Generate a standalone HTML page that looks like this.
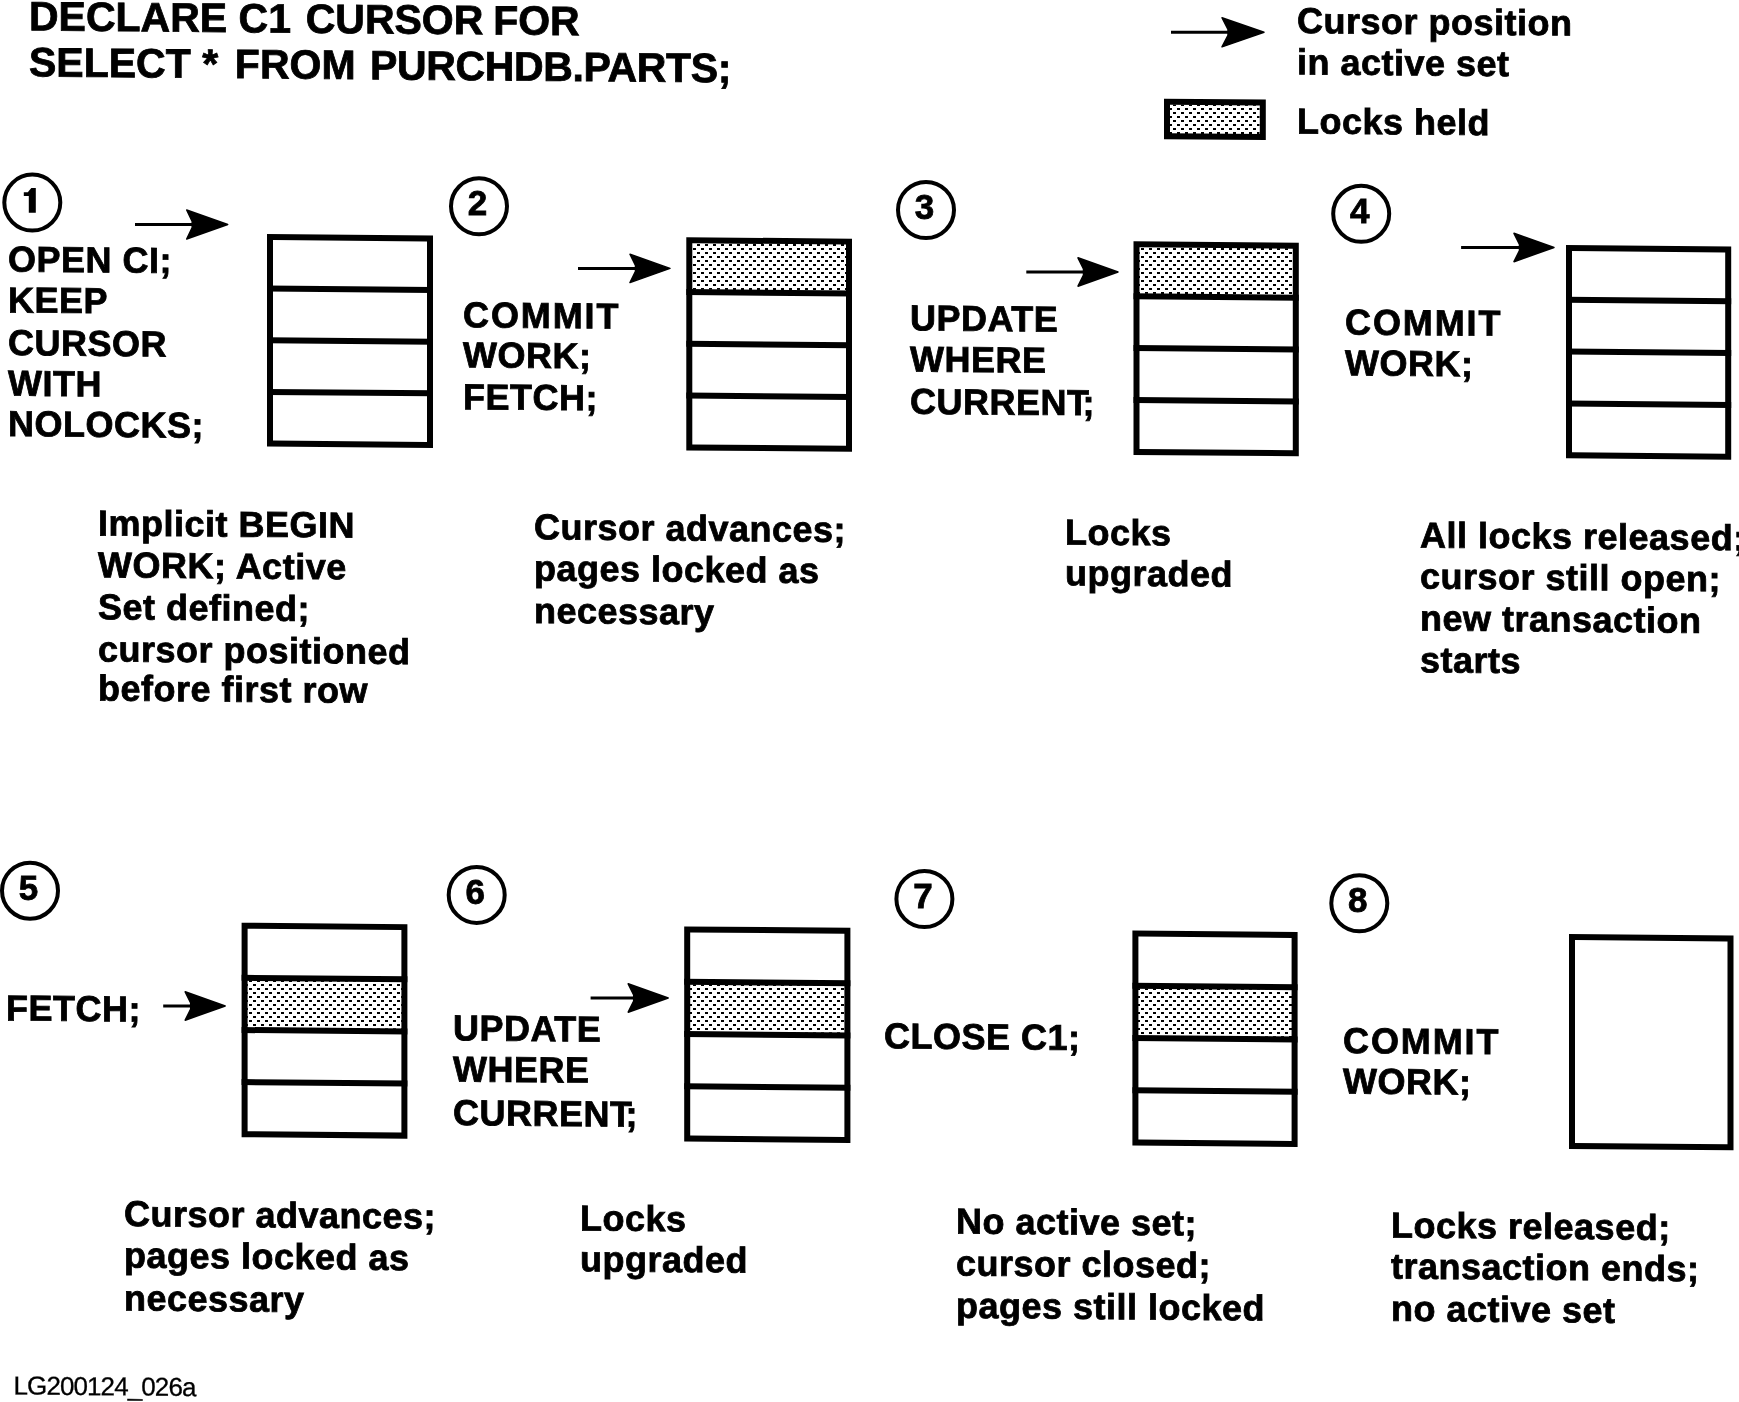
<!DOCTYPE html>
<html><head><meta charset="utf-8"><style>
html,body{margin:0;padding:0;background:#fff;}
body{width:1739px;height:1402px;overflow:hidden;}
svg{display:block;will-change:transform;}
text{font-family:"Liberation Sans",sans-serif;fill:#000;white-space:pre;}
.b{font-weight:bold;font-size:36px;stroke:#000;stroke-width:0.8px;letter-spacing:0.5px;}
.h{font-weight:bold;font-size:41px;stroke:#000;stroke-width:0.8px;}
.d{font-weight:bold;font-size:35px;stroke:#000;stroke-width:0.8px;}
.r{font-weight:normal;font-size:26px;stroke:#000;stroke-width:0.3px;}
</style></head><body>
<svg width="1739" height="1402" viewBox="0 0 1739 1402">
<defs>
<pattern id="dots" width="8" height="8" patternUnits="userSpaceOnUse">
<path d="M1,4h3v2h-3z M5,0h3v2h-3z" fill="#000"/>
</pattern>
</defs>
<rect width="1739" height="1402" fill="#fff"/>
<g transform="matrix(1,0.0088,0,1,0,-0.255)"><text x="29.0" y="30.3" class="h">DECLARE C1<tspan dx="3.3"> CURSOR</tspan><tspan dx="-1.6"> FOR</tspan></text></g>
<g transform="matrix(1,0.0088,0,1,0,-0.255)"><text x="29.0" y="76.2" class="h">SELECT *<tspan dx="5.4"> FROM</tspan><tspan dx="3.3" letter-spacing="-0.35"> PURCHDB.PARTS;</tspan></text></g>
<line x1="1171.0" y1="32.3" x2="1230.0" y2="32.3" stroke="#000" stroke-width="3"/><path d="M1264.0,32.3 L1222.0,17.7 L1228.0,29.3 L1228.0,35.3 L1222.0,46.9 Z" fill="#000" stroke="#000" stroke-width="1.5" stroke-linejoin="round"/>
<path d="M1169.5,104.5 L1259.5,105.29 L1259.5,134.79 L1169.5,134 Z" fill="url(#dots)"/>
<g transform="matrix(1,0.0088,0,1,0,-10.243)"><rect x="1167" y="101.7" width="95.8" height="34.5" fill="none" stroke="#000" stroke-width="6"/></g>
<g transform="matrix(1,0.0088,0,1,0,-11.414)"><text x="1297.0" y="33.1" class="b">Cursor position</text></g>
<g transform="matrix(1,0.0088,0,1,0,-11.414)"><text x="1297.0" y="74.3" class="b">in active set</text></g>
<g transform="matrix(1,0.0088,0,1,0,-11.414)"><text x="1297.0" y="133.4" class="b">Locks held</text></g>
<circle cx="32.3" cy="202.6" r="28" fill="none" stroke="#000" stroke-width="4"/><path d="M28.8,212.7 L28.8,196.0 L23.8,196.0 L23.8,192.3 L27.8,192.3 L31.3,188.0 L35.8,188.0 L35.8,212.7 Z" fill="#000"/>
<line x1="135.0" y1="224.5" x2="194.2" y2="224.5" stroke="#000" stroke-width="3"/><path d="M227.7,224.5 L186.7,210.0 L192.2,221.5 L192.2,227.5 L186.7,239.0 Z" fill="#000" stroke="#000" stroke-width="1.5" stroke-linejoin="round"/>
<g transform="matrix(1,0.0088,0,1,0,-0.070)"><text x="8.0" y="271.5" class="b">OPEN CI;</text></g>
<g transform="matrix(1,0.0088,0,1,0,-0.070)"><text x="8.0" y="312.4" class="b">KEEP</text></g>
<g transform="matrix(1,0.0088,0,1,0,-0.070)"><text x="8.0" y="355.0" class="b">CURSOR</text></g>
<g transform="matrix(1,0.0088,0,1,0,-0.070)"><text x="8.0" y="395.6" class="b">WITH</text></g>
<g transform="matrix(1,0.0088,0,1,0,-0.070)"><text x="8.0" y="436.0" class="b">NOLOCKS;</text></g>
<g transform="matrix(1,0.0088,0,1,0,-2.350)"><rect x="270.0" y="237.0" width="160.0" height="206.5" fill="none" stroke="#000" stroke-width="6"/><line x1="267.0" y1="288.6" x2="433.0" y2="288.6" stroke="#000" stroke-width="6"/><line x1="267.0" y1="340.2" x2="433.0" y2="340.2" stroke="#000" stroke-width="6"/><line x1="267.0" y1="391.9" x2="433.0" y2="391.9" stroke="#000" stroke-width="6"/></g>
<g transform="matrix(1,0.0088,0,1,0,-0.862)"><text x="98.0" y="535.4" class="b">Implicit BEGIN</text></g>
<g transform="matrix(1,0.0088,0,1,0,-0.862)"><text x="98.0" y="577.3" class="b">WORK; Active</text></g>
<g transform="matrix(1,0.0088,0,1,0,-0.862)"><text x="98.0" y="619.2" class="b">Set defined;</text></g>
<g transform="matrix(1,0.0088,0,1,0,-0.862)"><text x="98.0" y="661.4" class="b">cursor positioned</text></g>
<g transform="matrix(1,0.0088,0,1,0,-0.862)"><text x="98.0" y="700.5" class="b">before first row</text></g>
<circle cx="479.0" cy="206.3" r="28" fill="none" stroke="#000" stroke-width="4"/><text x="477.5" y="215.3" text-anchor="middle" class="d">2</text>
<line x1="578.0" y1="268.4" x2="637.5" y2="268.4" stroke="#000" stroke-width="3"/><path d="M670.0,268.4 L630.0,254.2 L635.5,265.4 L635.5,271.4 L630.0,282.6 Z" fill="#000" stroke="#000" stroke-width="1.5" stroke-linejoin="round"/>
<g transform="matrix(1,0.0088,0,1,0,-4.074)"><text x="463.0" y="327.3" class="b"><tspan letter-spacing="1.9">COMMIT</tspan></text></g>
<g transform="matrix(1,0.0088,0,1,0,-4.074)"><text x="463.0" y="367.3" class="b">WORK;</text></g>
<g transform="matrix(1,0.0088,0,1,0,-4.074)"><text x="463.0" y="409.2" class="b">FETCH;</text></g>
<path d="M691.80,242.75 L846.50,244.11 L846.50,290.91 L691.80,289.55 Z" fill="url(#dots)"/><g transform="matrix(1,0.0088,0,1,0,-6.039)"><rect x="689.3" y="240.2" width="159.7" height="207.2" fill="none" stroke="#000" stroke-width="6"/><line x1="686.3" y1="292.0" x2="852.0" y2="292.0" stroke="#000" stroke-width="6"/><line x1="686.3" y1="343.8" x2="852.0" y2="343.8" stroke="#000" stroke-width="6"/><line x1="686.3" y1="395.6" x2="852.0" y2="395.6" stroke="#000" stroke-width="6"/></g>
<g transform="matrix(1,0.0088,0,1,0,-4.699)"><text x="534.0" y="539.3" class="b">Cursor advances;</text></g>
<g transform="matrix(1,0.0088,0,1,0,-4.699)"><text x="534.0" y="580.5" class="b">pages locked as</text></g>
<g transform="matrix(1,0.0088,0,1,0,-4.699)"><text x="534.0" y="623.0" class="b">necessary</text></g>
<circle cx="926.0" cy="210.0" r="28" fill="none" stroke="#000" stroke-width="4"/><text x="924.5" y="219.0" text-anchor="middle" class="d">3</text>
<line x1="1026.3" y1="272.0" x2="1085.5" y2="272.0" stroke="#000" stroke-width="3"/><path d="M1118.0,272.0 L1078.0,257.8 L1083.5,269.0 L1083.5,275.0 L1078.0,286.2 Z" fill="#000" stroke="#000" stroke-width="1.5" stroke-linejoin="round"/>
<g transform="matrix(1,0.0088,0,1,0,-8.008)"><text x="910.0" y="330.3" class="b">UPDATE</text></g>
<g transform="matrix(1,0.0088,0,1,0,-8.008)"><text x="910.0" y="371.4" class="b">WHERE</text></g>
<g transform="matrix(1,0.0088,0,1,0,-8.008)"><text x="910.0" y="413.7" class="b">CURRENT<tspan dx="-7">;</tspan></text></g>
<path d="M1139.00,246.85 L1293.30,248.21 L1293.30,295.11 L1139.00,293.75 Z" fill="url(#dots)"/><g transform="matrix(1,0.0088,0,1,0,-9.975)"><rect x="1136.5" y="244.3" width="159.3" height="207.6" fill="none" stroke="#000" stroke-width="6"/><line x1="1133.5" y1="296.2" x2="1298.8" y2="296.2" stroke="#000" stroke-width="6"/><line x1="1133.5" y1="348.1" x2="1298.8" y2="348.1" stroke="#000" stroke-width="6"/><line x1="1133.5" y1="400.0" x2="1298.8" y2="400.0" stroke="#000" stroke-width="6"/></g>
<g transform="matrix(1,0.0088,0,1,0,-9.372)"><text x="1065.0" y="544.5" class="b">Locks</text></g>
<g transform="matrix(1,0.0088,0,1,0,-9.372)"><text x="1065.0" y="585.2" class="b">upgraded</text></g>
<circle cx="1361.2" cy="213.8" r="28" fill="none" stroke="#000" stroke-width="4"/><text x="1359.7" y="222.8" text-anchor="middle" class="d">4</text>
<line x1="1461.1" y1="247.5" x2="1521.5" y2="247.5" stroke="#000" stroke-width="3"/><path d="M1554.0,247.5 L1514.0,233.3 L1519.5,244.5 L1519.5,250.5 L1514.0,261.7 Z" fill="#000" stroke="#000" stroke-width="1.5" stroke-linejoin="round"/>
<g transform="matrix(1,0.0088,0,1,0,-11.836)"><text x="1345.0" y="334.4" class="b"><tspan letter-spacing="1.9">COMMIT</tspan></text></g>
<g transform="matrix(1,0.0088,0,1,0,-11.836)"><text x="1345.0" y="375.3" class="b">WORK;</text></g>
<g transform="matrix(1,0.0088,0,1,0,-13.781)"><rect x="1569.0" y="248.0" width="159.2" height="207.3" fill="none" stroke="#000" stroke-width="6"/><line x1="1566.0" y1="299.8" x2="1731.2" y2="299.8" stroke="#000" stroke-width="6"/><line x1="1566.0" y1="351.6" x2="1731.2" y2="351.6" stroke="#000" stroke-width="6"/><line x1="1566.0" y1="403.5" x2="1731.2" y2="403.5" stroke="#000" stroke-width="6"/></g>
<g transform="matrix(1,0.0088,0,1,0,-12.496)"><text x="1420.0" y="547.4" class="b">All locks released;</text></g>
<g transform="matrix(1,0.0088,0,1,0,-12.496)"><text x="1420.0" y="588.6" class="b">cursor still open;</text></g>
<g transform="matrix(1,0.0088,0,1,0,-12.496)"><text x="1420.0" y="630.4" class="b">new transaction</text></g>
<g transform="matrix(1,0.0088,0,1,0,-12.496)"><text x="1420.0" y="672.2" class="b">starts</text></g>
<circle cx="30.0" cy="890.7" r="28" fill="none" stroke="#000" stroke-width="4"/><text x="28.5" y="899.7" text-anchor="middle" class="d">5</text>
<line x1="163.2" y1="1006.0" x2="192.7" y2="1006.0" stroke="#000" stroke-width="3"/><path d="M225.2,1006.0 L185.2,991.8 L190.7,1003.0 L190.7,1009.0 L185.2,1020.2 Z" fill="#000" stroke="#000" stroke-width="1.5" stroke-linejoin="round"/>
<g transform="matrix(1,0.0088,0,1,0,-0.053)"><text x="6.0" y="1020.4" class="b">FETCH;</text></g>
<path d="M247.10,980.37 L401.90,981.74 L401.90,1028.86 L247.10,1027.50 Z" fill="url(#dots)"/><g transform="matrix(1,0.0088,0,1,0,-2.126)"><rect x="244.6" y="925.7" width="159.8" height="208.5" fill="none" stroke="#000" stroke-width="6"/><line x1="241.6" y1="977.8" x2="407.4" y2="977.8" stroke="#000" stroke-width="6"/><line x1="241.6" y1="1030.0" x2="407.4" y2="1030.0" stroke="#000" stroke-width="6"/><line x1="241.6" y1="1082.1" x2="407.4" y2="1082.1" stroke="#000" stroke-width="6"/></g>
<g transform="matrix(1,0.0088,0,1,0,-1.091)"><text x="124.0" y="1226.1" class="b">Cursor advances;</text></g>
<g transform="matrix(1,0.0088,0,1,0,-1.091)"><text x="124.0" y="1267.6" class="b">pages locked as</text></g>
<g transform="matrix(1,0.0088,0,1,0,-1.091)"><text x="124.0" y="1310.4" class="b">necessary</text></g>
<circle cx="476.7" cy="894.9" r="28" fill="none" stroke="#000" stroke-width="4"/><text x="475.2" y="903.9" text-anchor="middle" class="d">6</text>
<line x1="590.6" y1="998.0" x2="635.7" y2="998.0" stroke="#000" stroke-width="3"/><path d="M668.2,998.0 L628.2,983.8 L633.7,995.0 L633.7,1001.0 L628.2,1012.2 Z" fill="#000" stroke="#000" stroke-width="1.5" stroke-linejoin="round"/>
<g transform="matrix(1,0.0088,0,1,0,-3.986)"><text x="453.0" y="1040.3" class="b">UPDATE</text></g>
<g transform="matrix(1,0.0088,0,1,0,-3.986)"><text x="453.0" y="1081.4" class="b">WHERE</text></g>
<g transform="matrix(1,0.0088,0,1,0,-3.986)"><text x="453.0" y="1125.0" class="b">CURRENT<tspan dx="-7">;</tspan></text></g>
<path d="M689.70,984.22 L844.90,985.59 L844.90,1032.86 L689.70,1031.50 Z" fill="url(#dots)"/><g transform="matrix(1,0.0088,0,1,0,-6.021)"><rect x="687.2" y="929.4" width="160.2" height="209.1" fill="none" stroke="#000" stroke-width="6"/><line x1="684.2" y1="981.7" x2="850.4" y2="981.7" stroke="#000" stroke-width="6"/><line x1="684.2" y1="1034.0" x2="850.4" y2="1034.0" stroke="#000" stroke-width="6"/><line x1="684.2" y1="1086.2" x2="850.4" y2="1086.2" stroke="#000" stroke-width="6"/></g>
<g transform="matrix(1,0.0088,0,1,0,-5.104)"><text x="580.0" y="1230.4" class="b">Locks</text></g>
<g transform="matrix(1,0.0088,0,1,0,-5.104)"><text x="580.0" y="1271.2" class="b">upgraded</text></g>
<circle cx="924.4" cy="899.0" r="28" fill="none" stroke="#000" stroke-width="4"/><text x="922.9" y="908.0" text-anchor="middle" class="d">7</text>
<g transform="matrix(1,0.0088,0,1,0,-7.779)"><text x="884.0" y="1048.3" class="b">CLOSE C1;</text></g>
<path d="M1137.90,988.30 L1292.10,989.66 L1292.10,1036.91 L1137.90,1035.55 Z" fill="url(#dots)"/><g transform="matrix(1,0.0088,0,1,0,-9.965)"><rect x="1135.4" y="933.5" width="159.2" height="209.0" fill="none" stroke="#000" stroke-width="6"/><line x1="1132.4" y1="985.8" x2="1297.6" y2="985.8" stroke="#000" stroke-width="6"/><line x1="1132.4" y1="1038.0" x2="1297.6" y2="1038.0" stroke="#000" stroke-width="6"/><line x1="1132.4" y1="1090.2" x2="1297.6" y2="1090.2" stroke="#000" stroke-width="6"/></g>
<g transform="matrix(1,0.0088,0,1,0,-8.413)"><text x="956.0" y="1233.4" class="b">No active set;</text></g>
<g transform="matrix(1,0.0088,0,1,0,-8.413)"><text x="956.0" y="1275.5" class="b">cursor closed;</text></g>
<g transform="matrix(1,0.0088,0,1,0,-8.413)"><text x="956.0" y="1317.8" class="b">pages still locked</text></g>
<circle cx="1359.3" cy="903.3" r="28" fill="none" stroke="#000" stroke-width="4"/><text x="1357.8" y="912.3" text-anchor="middle" class="d">8</text>
<g transform="matrix(1,0.0088,0,1,0,-11.818)"><text x="1343.0" y="1052.9" class="b"><tspan letter-spacing="1.9">COMMIT</tspan></text></g>
<g transform="matrix(1,0.0088,0,1,0,-11.818)"><text x="1343.0" y="1093.4" class="b">WORK;</text></g>
<g transform="matrix(1,0.0088,0,1,0,-13.807)"><rect x="1572.0" y="937.0" width="158.5" height="208.9" fill="none" stroke="#000" stroke-width="6"/></g>
<g transform="matrix(1,0.0088,0,1,0,-12.241)"><text x="1391.0" y="1237.5" class="b">Locks released;</text></g>
<g transform="matrix(1,0.0088,0,1,0,-12.241)"><text x="1391.0" y="1278.5" class="b">transaction ends;</text></g>
<g transform="matrix(1,0.0088,0,1,0,-12.241)"><text x="1391.0" y="1320.8" class="b">no active set</text></g>
<g transform="matrix(1,0.0088,0,1,0,-0.119)"><text x="13.5" y="1394.5" class="r" letter-spacing="-0.9">LG200124_026a</text></g>
</svg>
</body></html>
